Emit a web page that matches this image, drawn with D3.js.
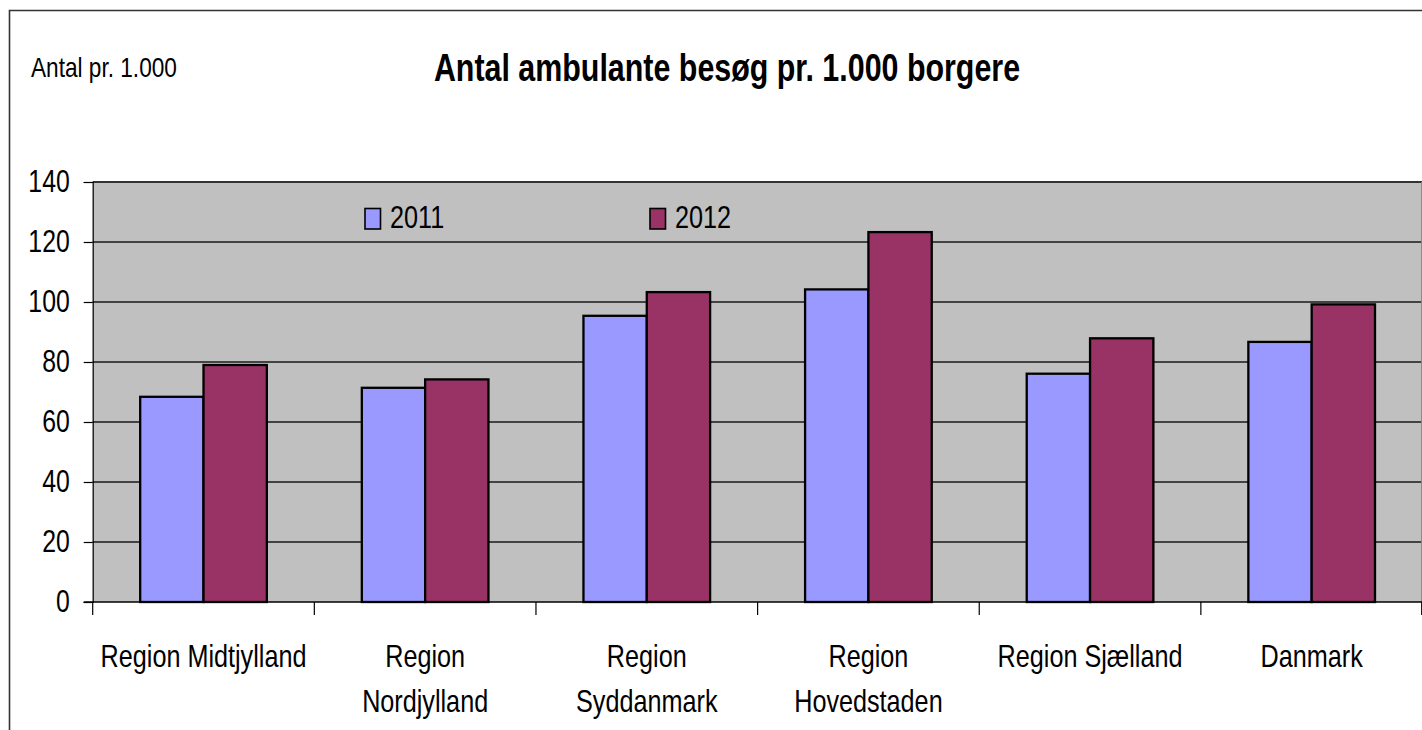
<!DOCTYPE html>
<html>
<head>
<meta charset="utf-8">
<script src="https://cdn.jsdelivr.net/npm/d3@7/dist/d3.min.js"></script>
<style>
  html, body { margin: 0; padding: 0; background: #fff; }
  svg { display: block; }
  text { font-family: "Liberation Sans", Arial, sans-serif; fill: #000; }
</style>
</head>
<body>
<svg id="chart" width="1422" height="730"></svg>
<script>
// ---- data ----
const categories = ["Region Midtjylland", "Region Nordjylland", "Region Syddanmark", "Region Hovedstaden", "Region Sjælland", "Danmark"];
const categoryLabels = [["Region Midtjylland"], ["Region", "Nordjylland"], ["Region", "Syddanmark"], ["Region", "Hovedstaden"], ["Region Sjælland"], ["Danmark"]];
const seriesNames = ["2011", "2012"];
const values2011 = [68.4, 71.4, 95.4, 104.2, 76.1, 86.7];
const values2012 = [79.0, 74.2, 103.3, 123.3, 87.9, 99.2];
const yTicks = [0, 20, 40, 60, 80, 100, 120, 140];
const titleText = "Antal ambulante besøg pr. 1.000 borgere";
const unitText = "Antal pr. 1.000";

const seriesValues = { "2011": values2011, "2012": values2012 };
const colors = { "2011": "#9999FF", "2012": "#993366" };

const SX = 0.8; // horizontal text condensation
function condense(sel) {
  sel.each(function () {
    const t = d3.select(this);
    const x = +t.attr("x") || 0, y = +t.attr("y") || 0;
    t.attr("transform", `translate(${x},${y}) scale(${SX},1) translate(${-x},${-y})`);
  });
}

const svg = d3.select("#chart");
const plot = { left: 92.7, right: 1422.5, top: 182, bottom: 602 };

// outer chart frame
svg.append("path")
  .attr("d", `M9.5,730 L9.5,10.5 L1422,10.5`)
  .attr("fill", "none").attr("stroke", "#333").attr("stroke-width", 1.6);

const x = d3.scaleBand().domain(categories).range([plot.left, plot.right]).padding(0);
const xs = d3.scaleBand().domain(seriesNames).range([0, x.bandwidth()]).paddingInner(0).paddingOuter(0.75);
const y = d3.scaleLinear().domain([0, 140]).range([plot.bottom, plot.top]);

// plot area background
svg.append("rect")
  .attr("x", plot.left).attr("y", y(140))
  .attr("width", plot.right - plot.left).attr("height", y(0) - y(140))
  .attr("fill", "#C0C0C0");

// gridlines
svg.append("g").selectAll("line").data(yTicks.filter(d => d > 0 && d < 140)).join("line")
  .attr("x1", plot.left).attr("x2", plot.right)
  .attr("y1", d => y(d)).attr("y2", d => y(d))
  .attr("stroke", "#1a1a1a").attr("stroke-width", 1.3);

// plot top & right border
svg.append("line").attr("x1", plot.left).attr("x2", plot.right)
  .attr("y1", y(140)).attr("y2", y(140)).attr("stroke", "#333").attr("stroke-width", 2);
svg.append("line").attr("x1", plot.right - 0.8).attr("x2", plot.right - 0.8)
  .attr("y1", y(140)).attr("y2", y(0)).attr("stroke", "#888").attr("stroke-width", 1.2);

// bars
const g = svg.append("g");
categories.forEach((c, i) => {
  seriesNames.forEach(s => {
    g.append("rect")
      .attr("x", x(c) + xs(s))
      .attr("y", y(seriesValues[s][i]))
      .attr("width", xs.bandwidth())
      .attr("height", y(0) - y(seriesValues[s][i]))
      .attr("fill", colors[s])
      .attr("stroke", "#000").attr("stroke-width", 2.3);
  });
});

// y axis
const yAxis = d3.axisLeft(y).tickValues(yTicks).tickSize(9).tickPadding(14).tickFormat(d3.format("d"));
const ya = svg.append("g").attr("transform", `translate(${plot.left},0)`).call(yAxis);
ya.select(".domain").attr("stroke", "#000").attr("stroke-width", 1.2);
ya.selectAll(".tick line").attr("stroke", "#000").attr("stroke-width", 1.2);
ya.selectAll(".tick text").attr("font-size", 31).attr("font-family", "Liberation Sans, Arial, sans-serif")
  .attr("fill", "#000").attr("dy", "0.32em");
ya.selectAll(".tick text").each(function () {
  const t = d3.select(this);
  const xx = +t.attr("x");
  t.attr("transform", `translate(${xx},0) scale(${SX},1) translate(${-xx},0)`);
});

// x axis line and category ticks
svg.append("line").attr("x1", plot.left - 9).attr("x2", plot.right)
  .attr("y1", y(0)).attr("y2", y(0)).attr("stroke", "#000").attr("stroke-width", 1.6);
const boundaries = categories.map(c => x(c)).concat([plot.right - 0.8]);
svg.append("g").selectAll("line").data(boundaries).join("line")
  .attr("x1", d => d).attr("x2", d => d)
  .attr("y1", y(0)).attr("y2", y(0) + 13)
  .attr("stroke", "#000").attr("stroke-width", 1.2);

// x labels
categories.forEach((c, i) => {
  categoryLabels[i].forEach((line, j) => {
    svg.append("text")
      .attr("x", x(c) + x.bandwidth() / 2)
      .attr("y", 667 + j * 45.5)
      .attr("text-anchor", "middle")
      .attr("font-size", 31.5)
      .text(line)
      .call(condense);
  });
});

// legend
const legendX = [365, 650];
seriesNames.forEach((s, i) => {
  svg.append("rect")
    .attr("x", legendX[i]).attr("y", 208.5)
    .attr("width", 15.5).attr("height", 20.5)
    .attr("fill", colors[s]).attr("stroke", "#000").attr("stroke-width", 1.6);
  svg.append("text")
    .attr("x", legendX[i] + 25).attr("y", 228)
    .attr("font-size", 31.5)
    .text(s)
    .call(condense);
});

// title & unit label
svg.append("text")
  .attr("x", 727).attr("y", 81)
  .attr("text-anchor", "middle")
  .attr("font-size", 38).attr("font-weight", "bold")
  .text(titleText)
  .call(condense);
svg.append("text")
  .attr("x", 31).attr("y", 77)
  .attr("font-size", 28.3)
  .text(unitText)
  .call(condense);
</script>
</body>
</html>
